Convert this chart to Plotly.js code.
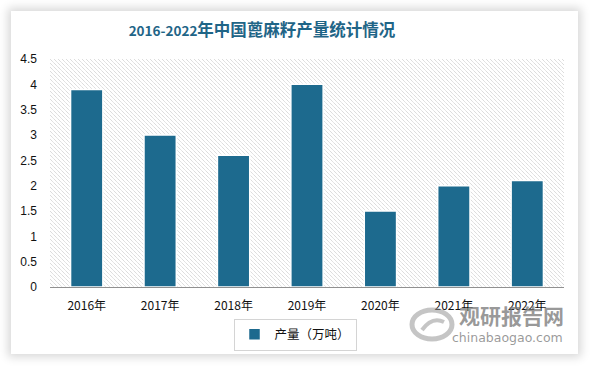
<!DOCTYPE html>
<html>
<head>
<meta charset="utf-8">
<script src="https://cdn.plot.ly/plotly-3.0.1.min.js"></script>
<style>
html,body{margin:0;padding:0;background:#ffffff;width:591px;height:368px;overflow:hidden;}
#card{position:absolute;left:11px;top:11px;width:567px;height:343px;background:#fff;box-shadow:0 0 9px 3px rgba(0,0,0,0.16);}
#chart{position:absolute;left:0;top:0;width:591px;height:368px;}
.js-plotly-plot .plot .bars .point path{filter:drop-shadow(2px 2px 2px rgba(0,0,0,0.35));}
</style>
</head>
<body>
<div id="card"></div>
<div id="chart"></div>
<script>
const categories = ['2016年','2017年','2018年','2019年','2020年','2021年','2022年'];
const production = [3.9, 3.0, 2.6, 4.0, 1.5, 2.0, 2.1];
const yTicks = [0, 0.5, 1, 1.5, 2, 2.5, 3, 3.5, 4, 4.5];
const yTickText = ['0','0.5','1','1.5','2','2.5','3','3.5','4','4.5'];
const seriesName = '产量（万吨）';
const titleYears = '2016-2022';
const titleRest = '年中国蓖麻籽产量统计情况';

const svg = "<svg xmlns='http://www.w3.org/2000/svg' width='514' height='228'>" +
  "<defs><pattern id='p' width='4' height='4' patternUnits='userSpaceOnUse'>" +
  "<path d='M-1,-1 L5,5 M-1,3 L1,5 M3,-1 L5,1' stroke='#cfcfcf' stroke-width='1' stroke-dasharray='1,0.6'/>" +
  "</pattern></defs><rect width='514' height='228' fill='#fff'/><rect width='514' height='228' fill='url(#p)'/></svg>";
const hatch = 'data:image/svg+xml;charset=utf-8,' + encodeURIComponent(svg);

const trace = {
  type: 'bar',
  x: categories,
  y: production,
  name: seriesName,
  marker: {color: '#1d6a8e', line: {color: '#ffffff', width: 1.5}},
  width: 0.44,
  hoverinfo: 'x+y'
};

const px = v => (v - 50) / 514;
const py = v => (287 - v) / 228;

const layout = {
  width: 591, height: 368,
  margin: {l: 50, r: 27, t: 59, b: 81, autoexpand: false},
  paper_bgcolor: 'rgba(0,0,0,0)',
  plot_bgcolor: 'rgba(0,0,0,0)',
  font: {family: '"Noto Sans CJK SC", "Noto Sans", sans-serif', size: 11, color: '#222'},
  title: {
    text: '<b><span style="font-size:13.5px">' + titleYears + '</span>' + titleRest + '</b>',
    font: {family: '"Noto Sans CJK SC", sans-serif', size: 16.5, color: '#1f6587'},
    x: 262/591, xanchor: 'center', y: 1 - 30/368, yanchor: 'middle', xref: 'container', yref: 'container'
  },
  xaxis: {
    type: 'category',
    showgrid: false, zeroline: false,
    showline: true, linecolor: '#909090', linewidth: 1,
    ticks: '', tickfont: {size: 12, color: '#111'},
    tickangle: 0, automargin: false, ticklabelstandoff: 8,
    fixedrange: true
  },
  yaxis: {
    range: [0, 4.5],
    tickvals: yTicks, ticktext: yTickText,
    showgrid: false, zeroline: false, showline: false,
    ticks: '', tickfont: {size: 12, color: '#111', family: '"Liberation Sans", Arial, sans-serif'},
    ticklabelstandoff: 12, automargin: false,
    fixedrange: true
  },
  showlegend: true,
  legend: {
    orientation: 'h', xref: 'paper', x: px(295), xanchor: 'center',
    y: py(334.5), yanchor: 'middle',
    bordercolor: '#d4d4d4', borderwidth: 1, bgcolor: '#ffffff',
    font: {size: 12.5, color: '#111'}, itemwidth: 30
  },
  images: [{
    source: hatch, xref: 'paper', yref: 'paper', x: 0, y: 1, sizex: 1, sizey: 1,
    sizing: 'stretch', layer: 'below', xanchor: 'left', yanchor: 'top'
  }],
  shapes: [
    {type: 'circle', xref: 'paper', yref: 'paper', x0: px(412), x1: px(452), y0: py(339), y1: py(310),
     line: {color: 'rgba(150,150,150,0.55)', width: 5}, fillcolor: 'rgba(0,0,0,0)'},
    {type: 'path', xref: 'paper', yref: 'paper',
     path: 'M ' + px(422) + ' ' + py(330) + ' Q ' + px(432) + ' ' + py(316) + ' ' + px(444) + ' ' + py(322),
     line: {color: 'rgba(150,150,150,0.55)', width: 4}}
  ],
  annotations: [
    {text: '<b>观研报告网</b>', xref: 'paper', yref: 'paper', x: px(511), y: py(315),
     xanchor: 'center', yanchor: 'middle', showarrow: false,
     font: {size: 21, color: 'rgba(120,120,120,0.75)', family: '"Noto Sans CJK SC", sans-serif'}},
    {text: 'chinabaogao.com', xref: 'paper', yref: 'paper', x: px(507), y: py(337),
     xanchor: 'center', yanchor: 'middle', showarrow: false,
     font: {size: 12.5, color: 'rgba(120,120,120,0.75)', family: '"DejaVu Sans", sans-serif'}}
  ],
  bargap: 0.56
};

Plotly.newPlot('chart', [trace], layout, {displayModeBar: false, staticPlot: true});
</script>
</body>
</html>
